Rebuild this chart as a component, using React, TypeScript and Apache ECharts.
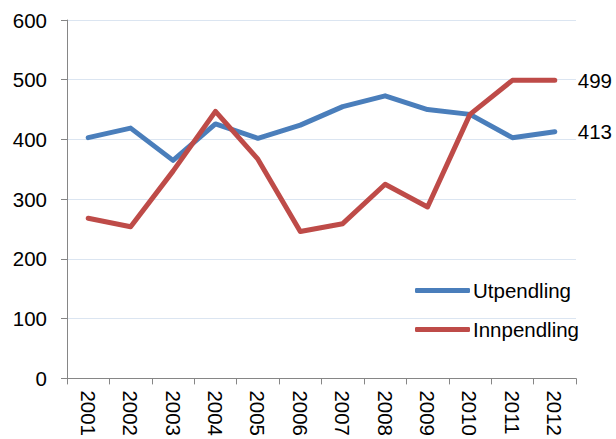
import React, { useEffect, useRef } from "react";
import * as echarts from "echarts";

const years = ["2001", "2002", "2003", "2004", "2005", "2006", "2007", "2008", "2009", "2010", "2011", "2012"];
const utpendling = [403, 419, 365, 426, 402, 424, 455, 473, 450, 442, 403, 413];
const innpendling = [268, 254, 347, 447, 367, 246, 259, 325, 287, 442, 499, 499];
const yTicks = { min: 0, max: 600, interval: 100 };

const FONT = "Liberation Sans, Arial, sans-serif";
const FS = 20.5;

const endLabel = {
  show: true,
  distance: 23,
  formatter: (p: any) => String(p.value),
  color: "#000",
  fontSize: FS,
  fontFamily: FONT,
};

export default function App() {
  const ref = useRef<HTMLDivElement>(null);
  useEffect(() => {
    const chart = echarts.init(ref.current!, null, { renderer: "svg" });
    chart.setOption({
      animation: false,
      backgroundColor: "#fff",
      grid: { left: 67, right: 40, top: 20, bottom: 58, containLabel: false },
      legend: {
        orient: "vertical",
        left: 415,
        top: 280,
        icon: "roundRect",
        itemWidth: 55,
        itemHeight: 5,
        itemGap: 18,
        padding: 0,
        textStyle: { fontSize: FS, fontFamily: FONT, color: "#000", padding: [0, 0, 0, -2] },
        data: ["Utpendling", "Innpendling"],
      },
      xAxis: {
        type: "category",
        data: years,
        boundaryGap: true,
        axisLine: { lineStyle: { color: "#868686", width: 1 } },
        axisTick: { show: true, length: 6, lineStyle: { color: "#868686" } },
        axisLabel: {
          rotate: -90,
          margin: 12,
          fontSize: FS,
          fontFamily: FONT,
          color: "#000",
          interval: 0,
        },
        splitLine: { show: false },
      },
      yAxis: {
        type: "value",
        min: yTicks.min,
        max: yTicks.max,
        interval: yTicks.interval,
        axisLine: { show: true, lineStyle: { color: "#868686", width: 1 } },
        axisTick: { show: true, length: 6, lineStyle: { color: "#868686" } },
        axisLabel: { fontSize: FS, fontFamily: FONT, color: "#000", margin: 20 },
        splitLine: { show: true, lineStyle: { color: "#dbe5f1", width: 1 } },
      },
      series: [
        {
          name: "Utpendling",
          type: "line",
          data: utpendling,
          color: "#4a7ebb",
          symbol: "none",
          clip: false,
          endLabel,
          lineStyle: { width: 5, color: "#4a7ebb", cap: "round", join: "round" },
        },
        {
          name: "Innpendling",
          type: "line",
          data: innpendling,
          color: "#be4b48",
          symbol: "none",
          clip: false,
          endLabel,
          lineStyle: { width: 5, color: "#be4b48", cap: "round", join: "round" },
        },
      ],
    });
    return () => chart.dispose();
  }, []);
  return (
    <div
      ref={ref}
      style={{ position: "fixed", left: 0, top: 0, width: 616, height: 439 }}
    />
  );
}
